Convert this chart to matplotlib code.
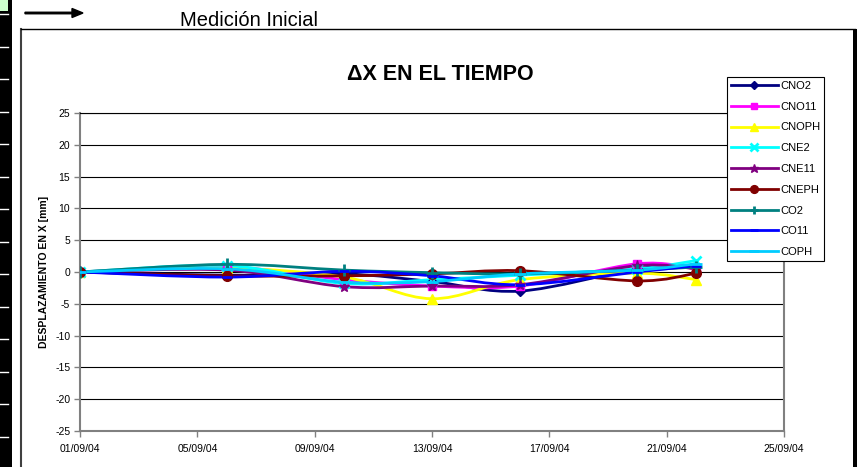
import matplotlib
matplotlib.use("Agg")
import matplotlib.pyplot as plt
import matplotlib.dates as mdates
from matplotlib.path import Path
from matplotlib.patches import PathPatch, Rectangle
from matplotlib.lines import Line2D
from datetime import datetime
import numpy as np

plt.rcParams['font.family'] = ['Liberation Sans', 'DejaVu Sans']
plt.rcParams['axes.unicode_minus'] = False

# fechas de medicion
dates = ['01/09/04', '06/09/04', '10/09/04', '13/09/04', '16/09/04', '20/09/04', '22/09/04']

# desplazamiento en X [mm] por punto
cno2 = [0, -0.5, -0.3, -1.5, -3.0, 0.5, 1.0]
cno11 = [0, 0.8, -1.2, -2.2, -2.2, 1.3, 0.5]
cnoph = [0, 0.6, -0.8, -4.2, -1.2, -0.2, -1.2]
cne2 = [0, 1.0, -1.8, -1.2, -0.5, 0.5, 1.8]
cne11 = [0, 0.3, -2.3, -2.2, -2.0, 1.0, 0.5]
cneph = [0, -0.6, -0.6, -0.3, 0.2, -1.4, -0.2]
co2 = [0, 1.2, 0.3, -0.1, -0.3, 0.3, 0.8]
co11 = [0, -0.8, 0.1, -0.6, -2.0, 0.0, 1.0]
coph = [0, 0.5, -1.6, -1.5, -0.3, 0.3, 1.3]

names = ['CNO2', 'CNO11', 'CNOPH', 'CNE2', 'CNE11', 'CNEPH', 'CO2', 'CO11', 'COPH']
values = [cno2, cno11, cnoph, cne2, cne11, cneph, co2, co11, coph]

# estilo de cada serie: color, marcador, tamaño
styles = [
	('#000080', 'D', 5),
	('#FF00FF', 's', 6),
	('#FFFF00', '^', 7),
	('#00FFFF', 'x', 7),
	('#800080', '*', 8),
	('#800000', 'o', 7),
	('#008080', '+', 8),
	('#0000FF', '_', 7),
	('#00CCFF', '_', 9),
]


def smoothPath(x, y):
	# curva suavizada tipo Catmull-Rom a traves de los puntos
	pts = np.column_stack([x, y])
	n = len(pts)
	verts = [pts[0]]
	codes = [Path.MOVETO]
	for i in range(n - 1):
		p0 = pts[i - 1] if i > 0 else pts[i]
		p1 = pts[i]
		p2 = pts[i + 1]
		p3 = pts[i + 2] if i + 2 < n else pts[i + 1]
		c1 = p1 + (p2 - p0) / 6.0
		c2 = p2 - (p3 - p1) / 6.0
		verts += [c1, c2, p2]
		codes += [Path.CURVE4] * 3
	return Path(verts, codes)


W, H = 867, 467
fig = plt.figure(figsize=(W / 100, H / 100), dpi=100)
fig.patch.set_facecolor('white')

# hoja de calculo a la izquierda
fig.patches.append(Rectangle((0, 0), 12 / W, 1, transform=fig.transFigure, facecolor='black', edgecolor='none'))
for k in range(14):
	yy = 1 - (14 + k * 32.5) / H
	fig.lines.append(Line2D([0, 8 / W], [yy, yy], transform=fig.transFigure, color='white', lw=1))
fig.patches.append(Rectangle((0, 1 - 11 / H), 8 / W, 11 / H, transform=fig.transFigure, facecolor='#CCFFCC', edgecolor='none'))

# marco del grafico
fig.lines.append(Line2D([21 / W, 21 / W], [0, 1 - 29 / H], transform=fig.transFigure, color='#404040', lw=1.5))
fig.lines.append(Line2D([21 / W, 855 / W], [1 - 29 / H, 1 - 29 / H], transform=fig.transFigure, color='black', lw=1))
fig.patches.append(Rectangle((853 / W, 0), 4 / W, 1 - 29 / H, transform=fig.transFigure, facecolor='black', edgecolor='none'))

# flecha y texto de cabecera
fig.patches.append(matplotlib.patches.FancyArrow(25 / W, 1 - 13 / H, 47 / W, 0, width=1.5 / H, head_width=9 / H, head_length=11 / W,
	length_includes_head=False, transform=fig.transFigure, color='black'))
fig.text(180 / W, 1 - 21 / H, 'Medición Inicial', fontsize=14.5, ha='left', va='center')

ax = fig.add_axes([80 / W, 1 - 431 / H, 704 / W, 318 / H])
x = [mdates.date2num(datetime.strptime(d, '%d/%m/%y')) for d in dates]

for name, vals, (color, marker, ms) in zip(names, values, styles):
	ax.add_patch(PathPatch(smoothPath(x, vals), facecolor='none', edgecolor=color, lw=2, zorder=3))
	ax.plot(x, vals, linestyle='none', marker=marker, color=color, markersize=ms, mew=2 if marker in ('x', '+', '_') else 1, zorder=4)

ax.set_xlim(mdates.date2num(datetime(2004, 9, 1)), mdates.date2num(datetime(2004, 9, 25)))
ax.set_ylim(-25, 25)
ax.set_yticks(range(-25, 26, 5))
ax.xaxis.set_major_locator(mdates.DayLocator(bymonthday=[1, 5, 9, 13, 17, 21, 25]))
ax.xaxis.set_major_formatter(mdates.DateFormatter('%d/%m/%y'))
ax.yaxis.grid(True, color='black', lw=0.8)
ax.set_axisbelow(True)
for s in ax.spines.values():
	s.set_color('#808080')
	s.set_linewidth(1.5)
ax.spines['top'].set_color('black')
ax.spines['top'].set_linewidth(0.8)
ax.tick_params(axis='both', labelsize=7.5, length=4, width=1, color='#808080', direction='out', pad=3)
ax.tick_params(axis='x', pad=5)

fig.text(44 / W, 1 - 272 / H, 'DESPLAZAMIENTO EN X [mm]', rotation=90, fontsize=7.5, fontweight='bold', ha='center', va='center')
fig.text(440 / W, 1 - 74 / H, 'ΔX EN EL TIEMPO', fontsize=15.5, fontweight='bold', ha='center', va='center')

handles = [Line2D([], [], color=c, lw=2, marker=m, markersize=ms * 0.8, mew=2 if m in ('x', '+', '_') else 1) for c, m, ms in styles]
leg = fig.legend(handles, names, loc='upper left', bbox_to_anchor=(727 / W, 1 - 77 / H), fontsize=8,
	frameon=True, fancybox=False, edgecolor='black', framealpha=1, borderpad=0.35, borderaxespad=0,
	handlelength=4.2, handletextpad=0.25, labelspacing=0.97)
leg.get_frame().set_linewidth(0.8)

fig.savefig('out.png', dpi=100)
